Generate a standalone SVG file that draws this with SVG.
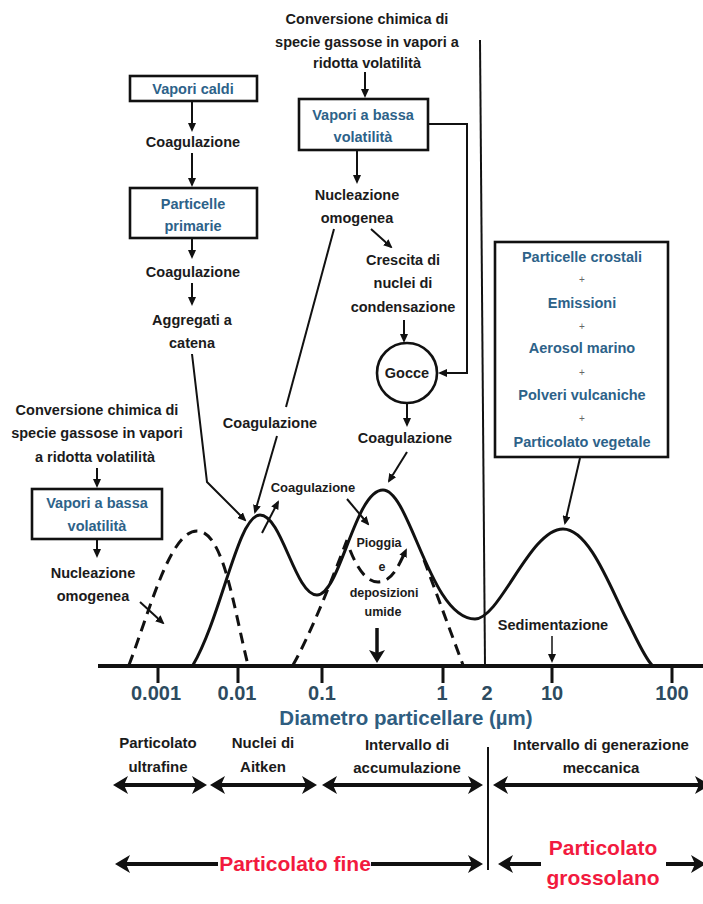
<svg xmlns="http://www.w3.org/2000/svg" width="703" height="904" viewBox="0 0 703 904">
<defs>
<style>
text{font-family:"Liberation Sans",Arial,sans-serif;font-weight:bold;text-anchor:middle}
.t{font-size:14.5px;fill:#1b1b1b}
.s{font-size:13px;fill:#1b1b1b}
.xs{font-size:12.5px;fill:#1b1b1b}
.b{font-size:14.5px;fill:#2d6289}
.p{font-size:10px;fill:#666;font-weight:normal}
.tick{font-size:20px;fill:#2d4b60}
.ax{font-size:20.5px;fill:#2f5d80}
.lab{font-size:15px;fill:#1b1b1b}
.red{font-size:21px;fill:#f21a3e}
.box{fill:#fff;stroke:#111;stroke-width:2.6}
.ln{fill:none;stroke:#111;stroke-width:2}
.cv{fill:none;stroke:#111;stroke-width:3;stroke-linejoin:round}
.ds{fill:none;stroke:#111;stroke-width:3;stroke-dasharray:11 7}
.dbl{fill:none;stroke:#111;stroke-width:4}
</style>
<marker id="a" viewBox="0 0 9 8" refX="7" refY="4" markerWidth="9" markerHeight="8" markerUnits="userSpaceOnUse" orient="auto"><path d="M0,0 L9,4 L0,8 z" fill="#111"/></marker>
<marker id="B" viewBox="0 0 15 18" refX="6" refY="9" markerWidth="15" markerHeight="18" markerUnits="userSpaceOnUse" orient="auto-start-reverse"><path d="M0,0 L15,9 L0,18 L4,9 z" fill="#111"/></marker>
<marker id="M" viewBox="0 0 13 16" refX="5" refY="8" markerWidth="13" markerHeight="16" markerUnits="userSpaceOnUse" orient="auto"><path d="M0,0 L13,8 L0,16 L3,8 z" fill="#111"/></marker>
</defs>
<rect width="703" height="904" fill="#fff"/>

<!-- long divider -->
<path d="M480,40 L485,666" class="ln"/>
<path d="M488,747 V870" class="ln" stroke-width="2.5"/>

<g id="top-conversion">
<text class="t" x="367" y="24">Conversione chimica di</text>
<text class="t" x="367" y="47">specie gassose in vapori a</text>
<text class="t" x="367" y="68">ridotta volatilità</text>
</g>
<g id="vapori-caldi"><rect class="box" x="130" y="76" width="127" height="25"/><text class="b" x="193" y="94">Vapori caldi</text></g>
<g id="coag1"><text class="t" x="193" y="147">Coagulazione</text></g>
<g id="particelle-primarie"><rect class="box" x="130" y="188" width="127" height="50"/><text class="b" x="193" y="209">Particelle</text><text class="b" x="193" y="231">primarie</text></g>
<g id="coag2"><text class="t" x="193" y="277">Coagulazione</text></g>
<g id="aggregati"><text class="t" x="192" y="325">Aggregati a</text><text class="t" x="192" y="348">catena</text></g>
<g id="vapori-bassa-top"><rect class="box" x="299" y="99" width="129" height="51"/><text class="b" x="363" y="120">Vapori a bassa</text><text class="b" x="363" y="142">volatilità</text></g>
<g id="nucleazione-top"><text class="t" x="357" y="200">Nucleazione</text><text class="t" x="357" y="223">omogenea</text></g>
<g id="crescita"><text class="t" x="403" y="265">Crescita di</text><text class="t" x="403" y="288">nuclei di</text><text class="t" x="403" y="312">condensazione</text></g>
<g id="gocce"><circle cx="407" cy="373" r="30" fill="#fff" stroke="#111" stroke-width="2.6"/><text class="t" x="407" y="378">Gocce</text></g>
<g id="coag3"><text class="t" x="405" y="443">Coagulazione</text></g>
<g id="coag4"><text class="t" x="270" y="428">Coagulazione</text></g>
<g id="left-conversion">
<text class="t" x="97" y="415">Conversione chimica di</text>
<text class="t" x="97" y="438">specie gassose in vapori</text>
<text class="t" x="95" y="462">a ridotta volatilità</text>
</g>
<g id="vapori-bassa-left"><rect class="box" x="32" y="489" width="130" height="50"/><text class="b" x="97" y="508">Vapori a bassa</text><text class="b" x="97" y="531">volatilità</text></g>
<g id="nucleazione-left"><text class="t" x="93" y="578">Nucleazione</text><text class="t" x="93" y="601">omogenea</text></g>
<g id="coag-small"><text class="s" x="313" y="492">Coagulazione</text></g>
<g id="pioggia"><text class="xs" x="379" y="547">Pioggia</text><text class="xs" x="382" y="571">e</text><text class="xs" x="384" y="597">deposizioni</text><text class="xs" x="383" y="616">umide</text></g>
<g id="sorgenti-grossolane">
<rect class="box" x="495" y="242" width="173" height="215"/>
<text class="b" x="582" y="262">Particelle crostali</text>
<text class="p" x="582" y="283">+</text>
<text class="b" x="582" y="308">Emissioni</text>
<text class="p" x="582" y="330">+</text>
<text class="b" x="582" y="353">Aerosol marino</text>
<text class="p" x="582" y="376">+</text>
<text class="b" x="582" y="400">Polveri vulcaniche</text>
<text class="p" x="582" y="422">+</text>
<text class="b" x="582" y="447">Particolato vegetale</text>
</g>
<g id="sedimentazione"><text class="t" x="553" y="630">Sedimentazione</text></g>

<g id="curves">
<path class="ds" d="M129,665 C150,610 170,531 197,531 C224,531 234,610 248,665"/>
<path class="ds" d="M293,665 C310,635 330,585 347,540"/>
<path class="ds" d="M424,560 L463,665"/>
<path class="ds" d="M350,550 C358,570 367,582 378,582 C392,582 399,565 406,550" marker-end="url(#a)"/>
<path class="cv" d="M193,665 C222,615 238,515 260,515 C282,515 295,595 317,595 C340,595 355,490 383,490 C410,490 430,619 475,619 C500,619 530,529 563,529 C590,529 612,592 628,622 C638,642 645,658 652,665"/>
</g>

<g id="axis">
<path d="M98,666 H703" fill="none" stroke="#111" stroke-width="4"/>
<path d="M158,667 V683 M238,667 V683 M322,667 V683 M443,667 V683 M552,667 V683 M672,667 V683" fill="none" stroke="#111" stroke-width="3"/>
<text class="tick" x="156" y="700">0.001</text>
<text class="tick" x="237" y="700">0.01</text>
<text class="tick" x="322" y="700">0.1</text>
<text class="tick" x="442" y="700">1</text>
<text class="tick" x="487" y="700">2</text>
<text class="tick" x="552" y="700">10</text>
<text class="tick" x="672" y="700">100</text>
<text class="ax" x="406" y="725">Diametro particellare (µm)</text>
</g>

<g id="ranges">
<text class="lab" x="158" y="748">Particolato</text><text class="lab" x="158" y="772">ultrafine</text>
<text class="lab" x="263" y="748">Nuclei di</text><text class="lab" x="263" y="772">Aitken</text>
<text class="lab" x="407" y="750">Intervallo di</text><text class="lab" x="407" y="773">accumulazione</text>
<text class="lab" x="601" y="750">Intervallo di generazione</text><text class="lab" x="601" y="773">meccanica</text>
<text class="red" x="295" y="871">Particolato fine</text>
<text class="red" x="603" y="855">Particolato</text>
<text class="red" x="603" y="885">grossolano</text>
</g>

<g id="connectors">
<g class="ln">
<path d="M365,72 V96" marker-end="url(#a)"/>
<path d="M357,151 V182" marker-end="url(#a)"/>
<path d="M371,229 L391,247" marker-end="url(#a)"/>
<path d="M404,320 V341" marker-end="url(#a)"/>
<path d="M428,124 H467 V373 H440" marker-end="url(#a)"/>
<path d="M407,403 V425" marker-end="url(#a)"/>
<path d="M407,452 L389,481" marker-end="url(#a)"/>
<path d="M192,102 V130" marker-end="url(#a)"/>
<path d="M192,153 V185" marker-end="url(#a)"/>
<path d="M192,239 V257" marker-end="url(#a)"/>
<path d="M192,283 V304" marker-end="url(#a)"/>
<path d="M192,354 L207,482 L245,520" marker-end="url(#a)"/>
<path d="M334,229 L286,407"/>
<path d="M277,436 L255,512" marker-end="url(#a)"/>
<path d="M262,533 L278,502" marker-end="url(#a)"/>
<path d="M347,499 L368,524" marker-end="url(#a)"/>
<path d="M97,468 V486" marker-end="url(#a)"/>
<path d="M97,540 V556" marker-end="url(#a)"/>
<path d="M140,602 L163,623" marker-end="url(#a)"/>
<path d="M580,458 L565,523" marker-end="url(#a)"/>
<path d="M552,636 V661" stroke-width="1.5" marker-end="url(#a)"/>
</g>
<path d="M377,628 V655" fill="none" stroke="#111" stroke-width="3.5" marker-end="url(#M)"/>
<g class="dbl">
<path d="M122,785 H198" marker-start="url(#B)" marker-end="url(#B)"/>
<path d="M219,785 H308" marker-start="url(#B)" marker-end="url(#B)"/>
<path d="M331,785 H474" marker-start="url(#B)" marker-end="url(#B)"/>
<path d="M502,785 H701" marker-start="url(#B)" marker-end="url(#B)"/>
<path d="M218,864 H124" marker-end="url(#B)"/>
<path d="M371,864 H474" marker-end="url(#B)"/>
<path d="M541,864 H507" marker-end="url(#B)"/>
<path d="M666,864 H697" marker-end="url(#B)"/>
</g>
</g>
</svg>
